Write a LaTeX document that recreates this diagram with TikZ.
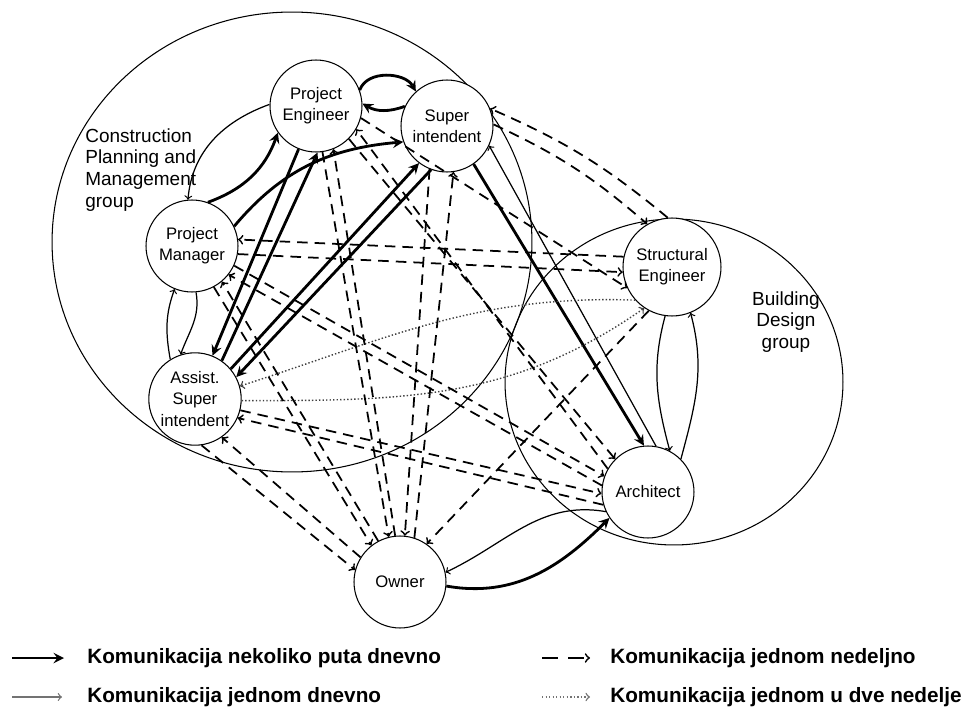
\documentclass[tikz,border=0pt]{standalone}
\usepackage{fontspec}
\setmainfont{Liberation Sans}
\tikzstyle{member} = [circle, draw=black, line width=0.6pt, fill=white, minimum size=1.84cm, inner sep=1pt, align=center, font=\fontsize{9.5}{12}\selectfont]
\tikzstyle{grp} = [draw=black, line width=0.6pt]
\tikzstyle{grouplabel} = [inner sep=0pt, font=\fontsize{10.8}{12.4}\selectfont]
\tikzstyle{legendtext} = [inner sep=0pt, font=\fontsize{11.8}{14}\selectfont\bfseries]
\tikzstyle{often} = [line width=1.6pt, ->, >=stealth]
\tikzstyle{daily} = [line width=0.7pt, ->, >=to]
\tikzstyle{weekly} = [line width=1pt, dash pattern=on 6pt off 4pt, ->, >=to]
\tikzstyle{rarely} = [line width=0.8pt, black!75, dash pattern=on 0.8pt off 1.2pt, ->, >=to]

\begin{document}
\begin{tikzpicture}[x=0.02cm, y=0.02cm]
\useasboundingbox (0,0) rectangle (971,-713);

% groups
\draw [grp] (292,-242) ellipse [x radius=4.8cm, y radius=4.6cm];
\draw [grp] (674,-382) ellipse [x radius=3.38cm, y radius=3.26cm];
\node (cpmlabel) [grouplabel, anchor=north west, align=left] at (85,-128) {Construction\\Planning and\\Management\\group};
\node (bdlabel) [grouplabel, align=center] at (786,-322) {Building\\Design\\group};

% members
\node (pe) [member] at (316,-106) {Project\\Engineer};
\node (si) [member] at (447,-126) {Super\\intendent};
\node (pm) [member] at (192,-246) {Project\\Manager};
\node (as) [member] at (195,-399) {Assist.\\Super\\intendent};
\node (se) [member, minimum size=1.96cm] at (672,-267) {Structural\\Engineer};
\node (ar) [member] at (648,-492) {Architect};
\node (ow) [member] at (400,-582) {Owner};

% several times a day
\draw [often] (pe.20) to[out=70,in=120] (si.132);
\draw [often] (si.155) to[out=200,in=-30] (pe.3);
\draw [often] (pm.70) to[out=20,in=250] (pe.215);
\draw [often] (pm.25) to[out=50,in=185] (si.200);
\draw [often] (pe.248) -- (as.68);
\draw [often] (as.55) -- (pe.272);
\draw [often] (as.40) -- (si.233);
\draw [often] (si.250) -- (as.28);
\draw [often] (si.-55) -- (ar.95);
\draw [often] (ow.-5) to[out=-10,in=225] (ar.214);

% once a day
\draw [daily] (ar.80) -- (si.-25);
\draw [daily] (ar.205) to[out=170,in=25] (ow.12);
\draw [daily] (pe.178) to[out=200,in=85] (pm.95);
\draw [daily] (pm.275) to[out=-80,in=70] (as.108);
\draw [daily] (as.122) to[out=100,in=250] (pm.248);
\draw [daily] (se.262) to[out=255,in=105] (ar.62);
\draw [daily] (ar.45) to[out=75,in=285] (se.292);

% once in two weeks
\draw [rarely] (se.222) to[out=178,in=18] (as.16);
\draw [rarely] (as.-2) to[out=0,in=215] (se.236);

% once a week
\draw [weekly] (se.95) to[bend right=8] (si.22);
\draw [weekly] (si.2) to[bend left=8] (se.120);
\draw [weekly] (se.168) -- (pm.8);
\draw [weekly] (pm.-10) -- (se.186);
\draw [weekly] (pe.-15) -- (se.205);
\draw [weekly] (pe.-45) -- (ar.135);
\draw [weekly] (ar.150) -- (pe.-30);
\draw [weekly] (pm.-25) -- (ar.160);
\draw [weekly] (ar.172) -- (pm.-38);
\draw [weekly] (as.-14) -- (ar.182);
\draw [weekly] (ar.196) -- (as.-24);
\draw [weekly] (as.-82) -- (ow.165);
\draw [weekly] (ow.148) -- (as.-55);
\draw [weekly] (pm.-62) -- (ow.128);
\draw [weekly] (ow.118) -- (pm.-50);
\draw [weekly] (pe.-82) -- (ow.104);
\draw [weekly] (ow.96) -- (pe.-68);
\draw [weekly] (si.-112) -- (ow.84);
\draw [weekly] (ow.72) -- (si.-82);
\draw [weekly] (se.242) -- (ow.55);

% legend
\coordinate (k1a) at (12,-658);
\coordinate (k1b) at (64,-658);
\coordinate (k2a) at (12,-697);
\coordinate (k2b) at (62,-697);
\coordinate (k3a) at (542,-658);
\coordinate (k3b) at (590,-658);
\coordinate (k4a) at (542,-697);
\coordinate (k4b) at (590,-697);
\draw [often] (k1a) -- (k1b);
\draw [daily, black!55] (k2a) -- (k2b);
\draw [weekly, dash pattern=on 9pt off 6pt] (k3a) -- (k3b);
\draw [rarely, black!55] (k4a) -- (k4b);
\node (k1) [legendtext, anchor=west] at (87,-658) {Komunikacija nekoliko puta dnevno};
\node (k2) [legendtext, anchor=west] at (87,-697) {Komunikacija jednom dnevno};
\node (k3) [legendtext, anchor=west] at (610,-658) {Komunikacija jednom nedeljno};
\node (k4) [legendtext, anchor=west] at (610,-697) {Komunikacija jednom u dve nedelje};
\end{tikzpicture}
\end{document}
